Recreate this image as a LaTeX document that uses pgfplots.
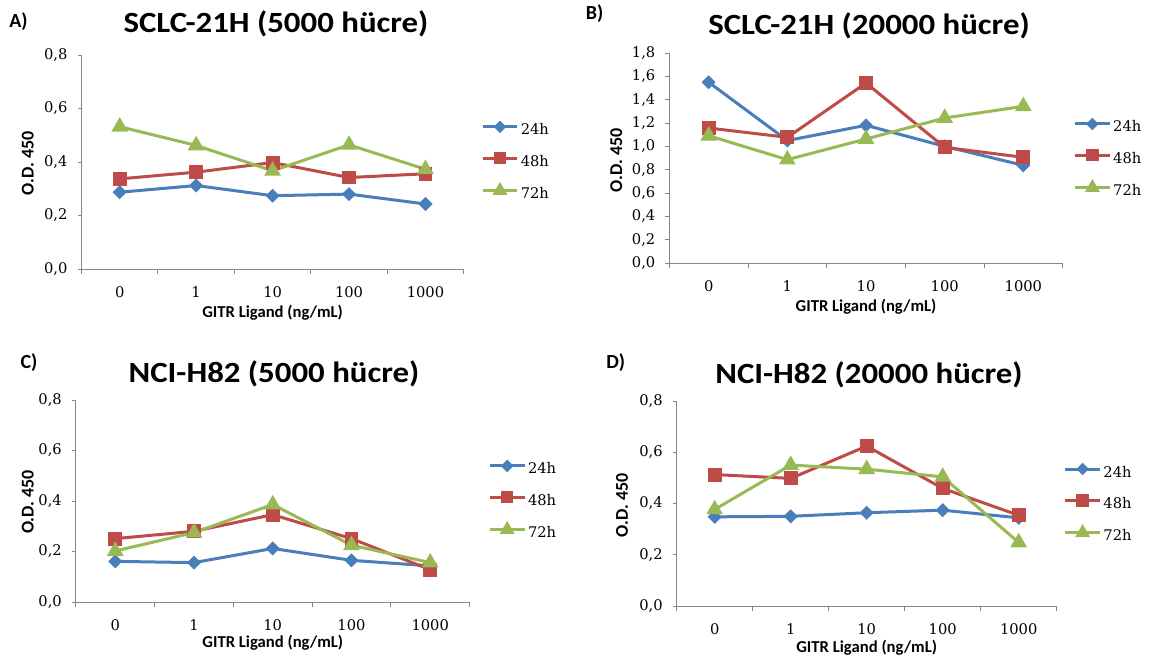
\documentclass[border=0pt]{standalone}
\usepackage{fontspec}
\setmainfont{Carlito}
\newfontfamily\serifnum{DejaVu Serif}
\usepackage{pgfplots}
\pgfplotsset{compat=1.18}

\definecolor{c24}{HTML}{4A7EBB}
\definecolor{c48}{HTML}{BE4B48}
\definecolor{c72}{HTML}{98B954}
\definecolor{axgray}{HTML}{868686}

% legend sample: short line with the marker in the middle
\pgfplotsset{legend image code/.code={%
  \draw[#1, mark repeat=2, mark phase=2, every mark/.append style={scale=0.85}]
    plot coordinates {(0pt,3pt)(13pt,3pt)(26pt,3pt)};}}

\pgfplotsset{
  panel/.style={
    scale only axis, clip=false, anchor=south west,
    axis x line*=bottom, axis y line*=left,
    axis line style={axgray, line width=0.75pt, -},
    xmin=-0.5, xmax=4.5,
    xtick={0,1,2,3,4}, xticklabels={0,1,10,100,1000},
    minor xtick={-0.5,0.5,1.5,2.5,3.5,4.5},
    major x tick style={draw=none},
    minor x tick style={axgray, line width=0.75pt},
    ytick style={axgray, line width=0.75pt},
    major tick length=3pt, minor tick length=4pt,
    tick align=outside,
    ymin=0,
    tick label style={font=\serifnum\fontsize{11}{13}\selectfont},
    xticklabel style={yshift=-6.5pt},
    yticklabel style={xshift=-4pt},
    /pgf/number format/assume math mode=true,
    /pgf/number format/.cd, fixed, fixed zerofill, precision=1, use comma,
    /pgfplots/.cd,
    xlabel={GITR Ligand (ng/mL)},
    ylabel={O.D. 450},
    xlabel style={font=\bfseries\fontsize{12.5}{14}\selectfont},
    ylabel style={font=\bfseries\fontsize{13.5}{15}\selectfont},
    legend cell align=left,
    legend style={draw=none, fill=none, anchor=west, inner sep=0pt,
      row sep=12pt, column sep=1.5pt,
      font=\serifnum\fontsize{11}{13}\selectfont,
      nodes={text height=8pt, text depth=2pt, inner sep=0pt}},
  },
  s24/.style={c24, line width=2.25pt, mark=square*, mark size=2.6pt,
    mark options={rotate=45, solid}},
  s48/.style={c48, line width=2.25pt, mark=square*, mark size=4.1pt,
    mark options={solid}},
  s72/.style={c72, line width=2.25pt, mark=triangle*, mark size=5pt,
    mark options={solid}},
}

\begin{document}
\begin{tikzpicture}[x=0.75pt, y=0.75pt]
\useasboundingbox (0,0) rectangle (1151,662);

% A) SCLC-21H, 5000 cells
\begin{axis}[panel, at={(61.125pt,294.75pt)}, width=286.65pt, height=160.5pt,
  ymax=0.8, ytick={0,0.2,0.4,0.6,0.8},
  xlabel style={at={(axis description cs:0.5,0)}, anchor=center, yshift=-33pt},
  ylabel style={at={(axis description cs:-0.1405,0.495)}, anchor=center},
  legend style={at={(axis description cs:1.045,0.50)}}]
  \addplot[s24] coordinates {(0,0.287)(1,0.312)(2,0.274)(3,0.280)(4,0.243)};
  \addplot[s48] coordinates {(0,0.337)(1,0.362)(2,0.398)(3,0.342)(4,0.356)};
  \addplot[s72] coordinates {(0,0.532)(1,0.462)(2,0.367)(3,0.464)(4,0.373)};
  \legend{24h,48h,72h}
\end{axis}

% B) SCLC-21H, 20000 cells
\begin{axis}[panel, at={(502pt,299.25pt)}, width=295pt, height=157.5pt,
  ymax=1.8, ytick={0,0.2,...,1.8},
  xlabel style={at={(axis description cs:0.5,0)}, anchor=center, yshift=-33pt},
  ylabel style={at={(axis description cs:-0.1348,0.49)}, anchor=center},
  legend style={at={(axis description cs:1.027,0.495)}}]
  \addplot[s24] coordinates {(0,1.549)(1,1.05)(2,1.18)(3,1.00)(4,0.837)};
  \addplot[s48] coordinates {(0,1.157)(1,1.077)(2,1.543)(3,0.991)(4,0.906)};
  \addplot[s72] coordinates {(0,1.091)(1,0.886)(2,1.063)(3,1.243)(4,1.343)};
  \legend{24h,48h,72h}
\end{axis}

% C) NCI-H82, 5000 cells
\begin{axis}[panel, at={(56.9pt,45pt)}, width=295.3pt, height=151.5pt,
  ymax=0.8, ytick={0,0.2,0.4,0.6,0.8},
  xlabel style={at={(axis description cs:0.5,0)}, anchor=center, yshift=-30.75pt},
  ylabel style={at={(axis description cs:-0.122,0.495)}, anchor=center},
  legend style={at={(axis description cs:1.047,0.50)}}]
  \addplot[s24] coordinates {(0,0.161)(1,0.156)(2,0.212)(3,0.165)(4,0.143)};
  \addplot[s48] coordinates {(0,0.251)(1,0.280)(2,0.346)(3,0.251)(4,0.128)};
  \addplot[s72] coordinates {(0,0.202)(1,0.275)(2,0.386)(3,0.225)(4,0.156)};
  \legend{24h,48h,72h}
\end{axis}

% D) NCI-H82, 20000 cells
\begin{axis}[panel, at={(507.5pt,42pt)}, width=285pt, height=153.75pt,
  ymax=0.8, ytick={0,0.2,0.4,0.6,0.8},
  xlabel style={at={(axis description cs:0.5,0)}, anchor=center, yshift=-31.5pt},
  ylabel style={at={(axis description cs:-0.144,0.49)}, anchor=center},
  legend style={at={(axis description cs:1.018,0.497)}}]
  \addplot[s24] coordinates {(0,0.348)(1,0.350)(2,0.364)(3,0.374)(4,0.344)};
  \addplot[s48] coordinates {(0,0.513)(1,0.498)(2,0.624)(3,0.459)(4,0.354)};
  \addplot[s72] coordinates {(0,0.377)(1,0.550)(2,0.534)(3,0.504)(4,0.248)};
  \legend{24h,48h,72h}
\end{axis}

% titles and panel letters
\begin{scope}[every node/.style={font=\bfseries\fontsize{22}{26}\selectfont, anchor=base, xscale=1.12}]
  \node at (276,629) {SCLC-21H (5000 hücre)};
  \node at (869,627) {SCLC-21H (20000 hücre)};
  \node at (274,280) {NCI-H82 (5000 hücre)};
  \node at (869,279) {NCI-H82 (20000 hücre)};
\end{scope}
\begin{scope}[every node/.style={font=\bfseries\fontsize{15}{17}\selectfont, anchor=base west, inner sep=0pt}]
  \node at (9,634) {A)};
  \node at (585.6,642) {B)};
  \node at (20.4,294) {C)};
  \node at (606,294) {D)};
\end{scope}
\end{tikzpicture}
\end{document}
